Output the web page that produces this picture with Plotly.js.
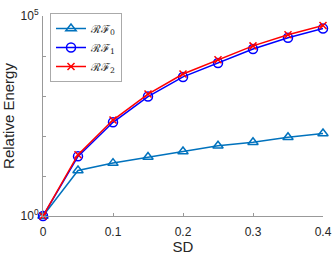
<!DOCTYPE html>
<html><head><meta charset="utf-8">
<script src="https://cdn.plot.ly/plotly-3.0.1.min.js"></script>
<style>html,body{margin:0;padding:0;background:#fff}</style>
</head><body><div id="plot" style="width:332px;height:255px"></div>
<script>
const sd = [0, 0.05, 0.1, 0.15, 0.2, 0.25, 0.3, 0.35, 0.4];
const rf0 = [1, 13.7, 21, 30, 41, 57, 70, 93, 115];
const rf1 = [1, 31, 220, 970, 3000, 6700, 15000, 28500, 48500];
const rf2 = [1, 34, 250, 1120, 3550, 8100, 17900, 34000, 58000];
const names = ['ℛℱ<sub>0</sub>', 'ℛℱ<sub>1</sub>', 'ℛℱ<sub>2</sub>'];
const yTickVals = [1, 10, 100, 1000, 10000, 100000];
const yTickText = ['10<sup>0</sup>', '', '', '', '', '10<sup>5</sup>'];
const xTickVals = [0, 0.1, 0.2, 0.3, 0.4];
const xTickText = ['0', '0.1', '0.2', '0.3', '0.4'];

const traces = [
  {x: sd, y: rf0, name: names[0], mode: 'lines+markers', cliponaxis: false,
   line: {color: '#0072BD', width: 1.5},
   marker: {symbol: 'triangle-up-open', size: 9, color: '#0072BD', line: {width: 1.5}}},
  {x: sd, y: rf1, name: names[1], mode: 'lines+markers', cliponaxis: false,
   line: {color: '#0000FF', width: 1.5},
   marker: {symbol: 'circle-open', size: 9, color: '#0000FF', line: {width: 1.5}}},
  {x: sd, y: rf2, name: names[2], mode: 'lines+markers', cliponaxis: false,
   line: {color: '#FF0000', width: 1.5},
   marker: {symbol: 'x-thin-open', size: 7, color: '#FF0000', line: {width: 1.5}}}
];

const layout = {
  width: 332, height: 255,
  margin: {l: 43, r: 9, t: 16, b: 39, pad: 0},
  paper_bgcolor: '#fff', plot_bgcolor: '#fff',
  font: {family: 'Liberation Sans, Arial, sans-serif', size: 12, color: '#262626'},
  showlegend: true,
  legend: {x: 0.025, y: 1.015, xanchor: 'left', yanchor: 'top',
    bgcolor: '#fff', bordercolor: '#aaaaaa', borderwidth: 1,
    font: {family: 'DejaVu Serif, serif', size: 11, color: '#262626'},
    tracegroupgap: 0, itemwidth: 30},
  xaxis: {range: [0, 0.4], tickvals: xTickVals, ticktext: xTickText,
    ticks: 'inside', ticklen: 3, tickcolor: '#999', showgrid: false, zeroline: false,
    showline: true, linecolor: '#999', linewidth: 1, mirror: false,
    ticklabelstandoff: 5,
    title: {text: 'SD', font: {size: 15, color: '#262626'}, standoff: 4},
    tickfont: {size: 12, color: '#262626'}},
  yaxis: {type: 'log', range: [0, 5], tickvals: yTickVals, ticktext: yTickText,
    ticks: 'inside', ticklen: 3, tickcolor: '#999', showgrid: false, zeroline: false,
    showline: true, linecolor: '#999', linewidth: 1,
    ticklabelstandoff: 1,
    title: {text: 'Relative Energy', font: {size: 15, color: '#262626'}, standoff: 2},
    tickfont: {size: 12, color: '#262626'}}
};
Plotly.newPlot('plot', traces, layout, {displayModeBar: false, staticPlot: true});
</script></body></html>
